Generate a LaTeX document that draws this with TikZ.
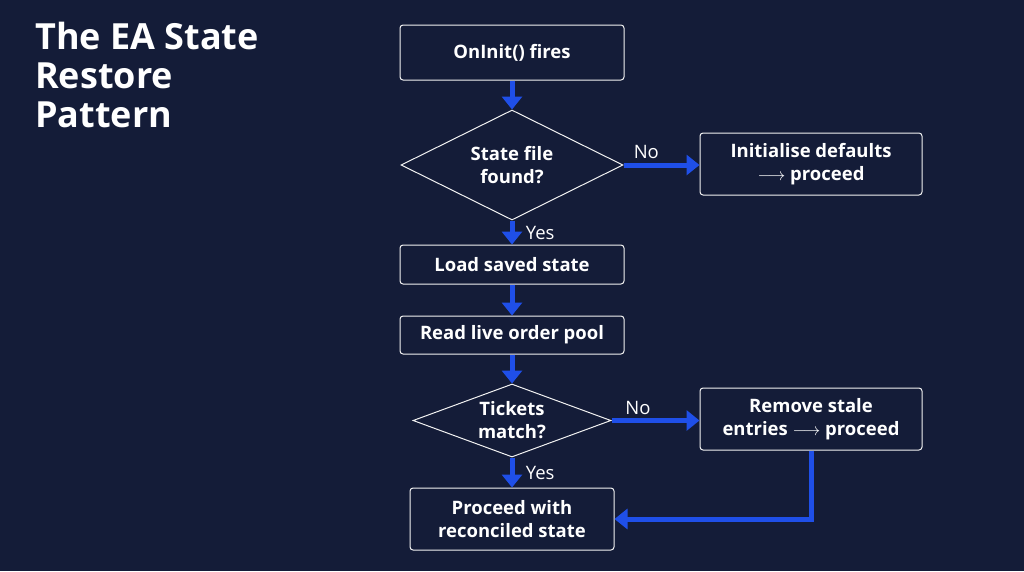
\documentclass[tikz,border=0pt]{standalone}
\usepackage{fontspec}
\setmainfont{Open Sans}
\usetikzlibrary{shapes.geometric,arrows.meta}
\definecolor{bg}{HTML}{141C38}
\definecolor{ab}{HTML}{1F4FE8}
\begin{document}
\begin{tikzpicture}[x=1pt,y=-1pt,
  box/.style={draw=white!90!gray,line width=1pt,rounded corners=3pt,text=white,font=\fontsize{18.5}{23}\selectfont\bfseries,align=center,inner sep=0pt},
  dia/.style={diamond,draw=white!90!gray,line width=1pt,inner sep=0pt},
  dt/.style={text=white,font=\fontsize{18.5}{23}\selectfont\bfseries,align=center},
  arr/.style={draw=ab,line width=5pt,-{Triangle[length=13pt,width=20pt]}},
  lab/.style={text=white,font=\fontsize{18.5}{22}\selectfont}]
\fill[bg] (0,0) rectangle (1024,571);
\useasboundingbox (0,0) rectangle (1024,571);
\node[anchor=north west,text=white,font=\fontsize{36}{39}\selectfont\bfseries,align=left,inner sep=0pt] (title) at (35,22) {The EA State\\Restore\\Pattern};
\node[box,minimum width=224pt,minimum height=55pt] (init) at (512,52.5) {OnInit() fires};
\node[dia,minimum width=222pt,minimum height=110pt] (d1) at (512,165) {};
\node[dt] (d1t) at (512,165) {State file\\found?};
\node[box,minimum width=222pt,minimum height=62pt] (def) at (811,164) {Initialise defaults\\$\longrightarrow$ proceed};
\node[box,minimum width=224pt,minimum height=39pt] (load) at (512,264.5) {Load saved state};
\node[box,minimum width=224pt,minimum height=38pt] (read) at (512,335) {Read live order pool};
\node[dia,minimum width=198pt,minimum height=73pt] (d2) at (512,420.5) {};
\node[dt] (d2t) at (512,420.5) {Tickets\\match?};
\node[box,minimum width=222pt,minimum height=62pt] (rem) at (811,419) {Remove stale\\entries $\longrightarrow$ proceed};
\node[box,minimum width=204pt,minimum height=62pt] (proc) at (512,519) {Proceed with\\reconciled state};
\draw[arr] (init) -- (d1);
\draw[arr] (d1.east) -- (d1.east -| def.west) node[lab,pos=0.3,above] (no1) {No};
\draw[arr] (d1) -- (load) node[lab,midway,right=8pt] (yes1) {Yes};
\draw[arr] (load) -- (read);
\draw[arr] (read) -- (d2);
\draw[arr] (d2.east) -- (d2.east -| rem.west) node[lab,pos=0.3,above] (no2) {No};
\draw[arr] (d2) -- (proc) node[lab,midway,right=8pt] (yes2) {Yes};
\draw[arr] (rem.south) |- (proc.east);
\end{tikzpicture}
\end{document}
